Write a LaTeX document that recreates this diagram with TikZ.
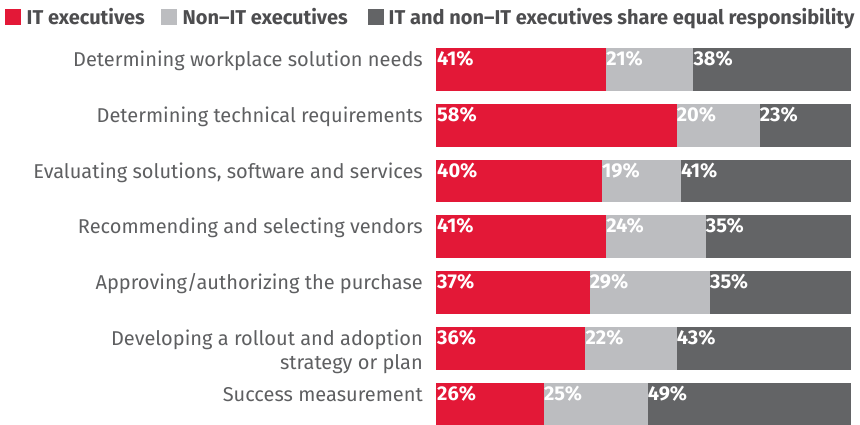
\documentclass[tikz,border=0pt]{standalone}
\usepackage{fontspec}
\setmainfont{Fira Sans}
\usetikzlibrary{calc}
\definecolor{itred}{HTML}{E31837}
\definecolor{ltgray}{HTML}{BCBDC0}
\definecolor{dkgray}{HTML}{636466}
\definecolor{txt}{HTML}{5E5F61}
\definecolor{keytext}{HTML}{4D4D4F}
\begin{document}
\begin{tikzpicture}[x=1pt,y=-1pt,
  seg/.style={inner sep=0pt, outer sep=0pt, anchor=north west, minimum height=42.7pt},
  pct/.style={anchor=base west, inner sep=0pt, text=white, font=\fontsize{20}{20}\selectfont\bfseries},
  lab/.style={anchor=base east, inner sep=0pt, text=txt, font=\fontsize{20}{24}\selectfont, align=right},
  keybox/.style={inner sep=0pt, outer sep=0pt, minimum size=15.5pt, anchor=north west},
  keytxt/.style={anchor=base west, inner sep=0pt, text=keytext, font=\fontsize{20}{20}\selectfont\bfseries}]
\useasboundingbox (0,0) rectangle (860,424);
% legend
\node[keybox, fill=itred] (k1) at (5,9.3) {};
\node[keytxt] (t1) at ($(k1.north east)+(6,15.2)$) {IT executives};
\node[keybox, fill=ltgray] (k2) at (161,9.3) {};
\node[keytxt] (t2) at ($(k2.north east)+(6,15.2)$) {Non–IT executives};
\node[keybox, fill=dkgray] (k3) at (368,9.3) {};
\node[keytxt] (t3) at ($(k3.north east)+(5,15.2)$) {IT and non–IT executives share equal responsibility};
% bars
\foreach \i/\a/\b/\c/\d/\lab in {
  1/41/21/38/0/{Determining workplace solution needs},
  2/58/20/23/0/{Determining technical requirements},
  3/40/19/41/0/{Evaluating solutions, software and services},
  4/41/24/35/0/{Recommending and selecting vendors},
  5/37/29/35/0/{Approving/authorizing the purchase},
  6/36/22/43/24/{Developing a rollout and adoption\\strategy or plan},
  7/26/25/49/0/{Success measurement}} {
  \pgfmathsetmacro\yy{48+55.8*(\i-1)}
  \pgfmathsetmacro\wa{\a*4.15}
  \pgfmathsetmacro\wb{\b*4.15}
  \pgfmathsetmacro\wc{415-(\a+\b)*4.15}
  \node[seg, fill=itred, minimum width=\wa pt] (r\i a) at (436,\yy) {};
  \node[seg, fill=ltgray, minimum width=\wb pt] (r\i b) at (r\i a.north east) {};
  \node[seg, fill=dkgray, minimum width=\wc pt] (r\i c) at (r\i b.north east) {};
  \node[pct] (p\i a) at ($(r\i a.north west)+(1,17.5)$) {\a\%};
  \node[pct] (p\i b) at ($(r\i b.north west)+(0,17.5)$) {\b\%};
  \node[pct] (p\i c) at ($(r\i c.north west)+(0,17.5)$) {\c\%};
  \node[lab] (l\i) at ($(423,\yy)+(0,18.5+\d)$) {\lab};
}
\end{tikzpicture}
\end{document}
